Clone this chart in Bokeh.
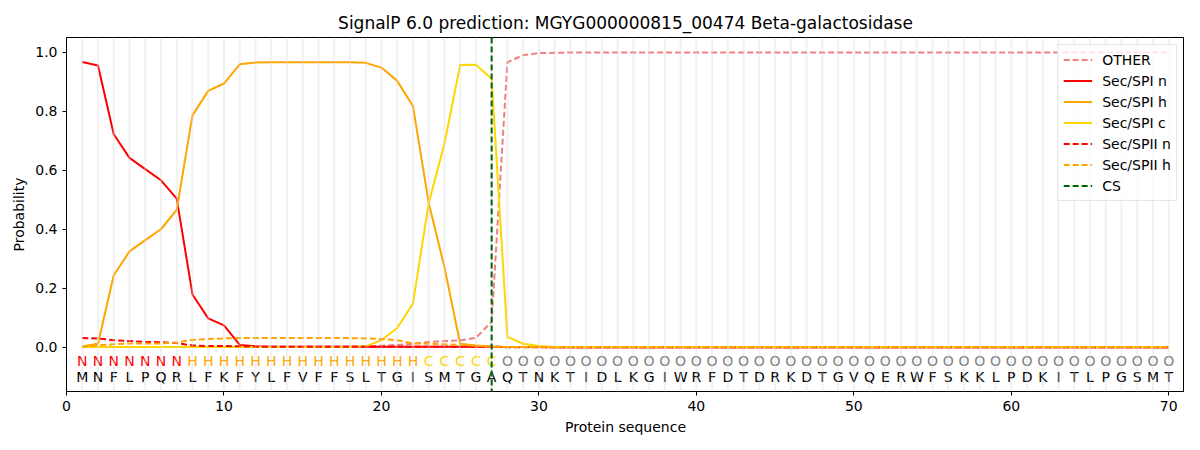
from bokeh.plotting import figure
from bokeh.models import Span, Range1d, Legend, LegendItem, FixedTicker, ColumnDataSource, CustomJSTickFormatter
from bokeh.embed import file_html
from bokeh.resources import INLINE
from bokeh.core.properties import value

sequence = list("MNFLPQRLFKFYLFVFFSLTGISMTGAQTNKTIDLKGIWRFDTDRKDTGVQERWFSKKLPDKITLPGSMT")
labels = list("N" * 7 + "H" * 15 + "C" * 5 + "O" * 43)
positions = list(range(1, len(sequence) + 1))
cs_position = 27

other = ([0.001] * 18 + [0.003, 0.005, 0.008, 0.012, 0.018, 0.021, 0.023, 0.032, 0.086,
          0.966, 0.990, 0.997, 0.998] + [0.999] * 39)
sec_spi_n = ([0.967, 0.955, 0.722, 0.642, 0.604, 0.566, 0.504, 0.179, 0.098, 0.074, 0.008,
              0.003] + [0.002] * 15 + [0.001] * 3 + [0.0] * 40)
sec_spi_h = ([0.003, 0.012, 0.244, 0.325, 0.363, 0.400, 0.466, 0.786, 0.869, 0.894, 0.959,
              0.965, 0.966, 0.966, 0.966, 0.966, 0.966, 0.966, 0.964, 0.948, 0.903, 0.818,
              0.490, 0.272, 0.012, 0.006, 0.002] + [0.001] * 3 + [0.0] * 40)
sec_spi_c = ([0.001] * 18 + [0.003, 0.024, 0.065, 0.148, 0.487, 0.690, 0.957, 0.958, 0.910,
              0.035, 0.012, 0.004] + [0.001] * 40)
sec_spii_n = ([0.031, 0.030, 0.024, 0.021, 0.018, 0.017, 0.014, 0.006, 0.004, 0.004, 0.003]
              + [0.002] * 16 + [0.0] * 43)
sec_spii_h = ([0.002, 0.006, 0.010, 0.013, 0.013, 0.013, 0.016, 0.025, 0.028, 0.030, 0.031]
              + [0.031] * 7 + [0.030, 0.028, 0.024, 0.013, 0.012, 0.010, 0.008, 0.005, 0.002]
              + [0.001] * 43)

label_colors = {"N": "#ff0000", "H": "#ffa500", "C": "#ffd700", "O": "#808080"}

FONT = "DejaVu Sans"

p = figure(output_backend="svg", toolbar_location=None,
           x_range=Range1d(0, 71), y_range=Range1d(-0.15, 1.05),
           title="SignalP 6.0 prediction: MGYG000000815_00474 Beta-galactosidase",
           min_border_left=66, min_border_right=0, min_border_top=37, min_border_bottom=50)
p.frame_width = 1118
p.frame_height = 354

p.title.align = "center"
p.title.text_font = FONT
p.title.text_font_size = "17px"
p.title.text_font_style = "normal"
p.title.text_color = "black"

p.xgrid.grid_line_color = None
p.ygrid.grid_line_color = None
p.outline_line_color = "black"
p.outline_line_width = 1

for ax in (p.xaxis, p.yaxis):
    ax.axis_label_text_font = FONT
    ax.axis_label_text_font_size = "14px"
    ax.axis_label_text_font_style = "normal"
    ax.axis_label_text_color = "black"
    ax.major_label_text_font = FONT
    ax.major_label_text_font_size = "14px"
    ax.major_label_text_color = "black"
    ax.minor_tick_line_color = None
    ax.major_tick_out = 4
    ax.major_tick_in = 0
    ax.axis_line_color = "black"

p.xaxis.axis_label = "Protein sequence"
p.yaxis.axis_label = "Probability"
p.xaxis.ticker = FixedTicker(ticks=[0, 10, 20, 30, 40, 50, 60, 70])
p.yaxis.ticker = FixedTicker(ticks=[0.0, 0.2, 0.4, 0.6, 0.8, 1.0])
p.yaxis.formatter = CustomJSTickFormatter(code="return tick.toFixed(1);")

for x in positions:
    p.add_layout(Span(location=x, dimension="height", line_color="#d8d8d8",
                      line_alpha=0.35, line_width=2))

r_other = p.line(positions, other, line_color="#f08080", line_width=2, line_dash="6 3")
r_n = p.line(positions, sec_spi_n, line_color="#ff0000", line_width=2)
r_h = p.line(positions, sec_spi_h, line_color="#ffa500", line_width=2)
r_c = p.line(positions, sec_spi_c, line_color="#ffd700", line_width=2)
r_n2 = p.line(positions, sec_spii_n, line_color="#ff0000", line_width=2, line_dash="6 3")
r_h2 = p.line(positions, sec_spii_h, line_color="#ffa500", line_width=2, line_dash="6 3")

cs = Span(location=cs_position, dimension="height", line_color="#006400",
          line_width=2, line_dash="6 3")
p.add_layout(cs)
r_cs = p.line([cs_position, cs_position], [-1, -1], line_color="#006400",
              line_width=2, line_dash="6 3")

src = ColumnDataSource(dict(x=positions, lab=labels, seq=sequence,
                            col=[label_colors[l] for l in labels],
                            y1=[-0.047] * len(positions), y2=[-0.102] * len(positions)))
p.text(x="x", y="y1", text="lab", text_color="col", source=src, text_align="center",
       text_baseline="middle", text_font=value(FONT), text_font_size="14px")
p.text(x="x", y="y2", text="seq", text_color="black", source=src, text_align="center",
       text_baseline="middle", text_font=value(FONT), text_font_size="14px")

legend = Legend(items=[
    LegendItem(label="OTHER", renderers=[r_other]),
    LegendItem(label="Sec/SPI n", renderers=[r_n]),
    LegendItem(label="Sec/SPI h", renderers=[r_h]),
    LegendItem(label="Sec/SPI c", renderers=[r_c]),
    LegendItem(label="Sec/SPII n", renderers=[r_n2]),
    LegendItem(label="Sec/SPII h", renderers=[r_h2]),
    LegendItem(label="CS", renderers=[r_cs]),
], location="top_right")
legend.label_text_font = FONT
legend.label_text_font_size = "14px"
legend.label_text_color = "black"
legend.glyph_width = 29
legend.glyph_height = 19
legend.label_height = 19
legend.label_standoff = 10
legend.spacing = 2
legend.padding = 5
legend.margin = 7
legend.border_line_color = "#cccccc"
legend.border_line_width = 1
legend.background_fill_alpha = 0.8
p.add_layout(legend)

open("out.html", "w").write(file_html(p, INLINE))
